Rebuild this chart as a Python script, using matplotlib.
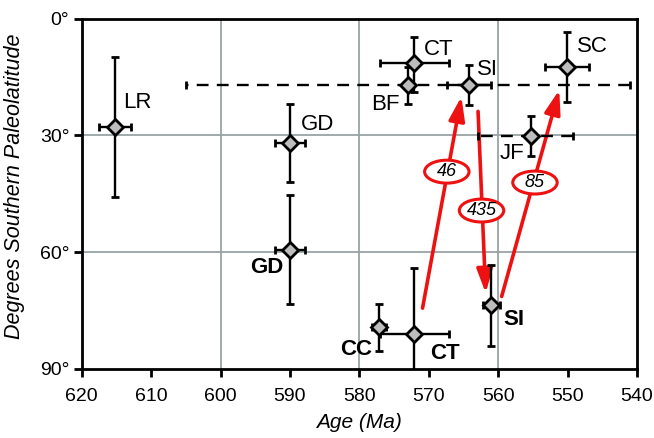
import numpy as np
import matplotlib.pyplot as plt
from matplotlib.patches import Ellipse

plt.rcParams['font.family'] = ['Liberation Sans', 'DejaVu Sans']

# paleomagnetic poles: age (Ma) and southern paleolatitude (deg)
names = ['LR', 'GD', 'GD', 'CT', 'BF', 'SI', 'SC', 'JF', 'CC', 'CT', 'SI']
ages = [615.2, 590.0, 590.0, 572.1, 573.0, 564.2, 550.1, 555.2, 577.2, 572.1, 561.0]
lats = [27.8, 32.0, 59.4, 11.3, 17.1, 17.0, 12.3, 30.2, 79.3, 81.0, 73.6]
age_err_lo = [2.3, 2.2, 2.2, 5.0, 32.0, 3.2, 3.2, 6.0, 1.0, 5.0, 1.2]
age_err_hi = [2.3, 2.2, 2.2, 5.0, 32.0, 3.2, 3.2, 7.7, 1.0, 5.0, 1.2]
lat_err_lo = [18.0, 10.0, 14.0, 6.6, 4.8, 5.2, 9.0, 5.1, 6.0, 17.0, 10.4]
lat_err_hi = [18.0, 10.0, 14.0, 7.4, 4.8, 5.1, 9.2, 5.2, 6.0, 12.0, 10.5]
dashed_age = [False, False, False, False, True, False, False, True, False, False, False]
bold = [False, False, True, False, False, False, False, False, True, True, True]

# label positions (age, lat)
label_x = [612.0, 586.0, 593.4, 568.6, 576.3, 561.6, 546.4, 558.0, 580.4, 567.6, 557.8]
label_y = [21.6, 27.3, 64.0, 8.0, 22.0, 13.0, 7.1, 34.6, 85.0, 86.0, 77.4]

# red arrows: start (age, lat) -> end (age, lat), with number label
arrow_start = [(570.9, 74.4), (562.9, 23.8), (559.5, 71.4)]
arrow_end = [(565.3, 20.0), (561.8, 70.5), (551.2, 18.3)]
arrow_text = ['46', '435', '85']
arrow_text_pos = [(567.4, 39.3), (562.4, 49.3), (554.7, 42.1)]

fig = plt.figure(figsize=(6.54, 4.38), dpi=100)
ax = fig.add_axes([0.125, 0.158, 0.849, 0.799])

ax.set_xlim(620, 540)
ax.set_ylim(90, 0)

# grid lines
for gx in [600, 580, 560]:
    ax.axvline(gx, color='#98a4a4', lw=1.3, zorder=0)
for gy in [30, 60]:
    ax.axhline(gy, color='#98a4a4', lw=1.3, zorder=0)

# arrows first so points sit on top
for (x0, y0), (x1, y1) in zip(arrow_start, arrow_end):
    ax.annotate('', xy=(x1, y1), xytext=(x0, y0),
                arrowprops=dict(arrowstyle='-|>,head_width=0.3,head_length=0.9',
                                color='#ee1111', lw=2.6,
                                mutation_scale=16, shrinkA=0, shrinkB=0),
                zorder=2)
for t, (tx, ty) in zip(arrow_text, arrow_text_pos):
    ax.add_patch(Ellipse((tx, ty), 6.4, 5.9, fc='white', ec='#ee1111', lw=2.2, zorder=3))
    ax.text(tx, ty, t, fontsize=13, style='italic', ha='center', va='center', zorder=3.5)

for i in range(len(names)):
    eb = ax.errorbar(ages[i], lats[i],
                     xerr=[[age_err_lo[i]], [age_err_hi[i]]],
                     yerr=[[lat_err_lo[i]], [lat_err_hi[i]]],
                     fmt='D', ms=8, mfc='#bdbdbd', mec='black', mew=2,
                     ecolor='black', elinewidth=1.7, capsize=3, capthick=1.7,
                     zorder=4)
    if dashed_age[i]:
        eb[2][0].set_linestyle((0, (5, 3.5)))
    ax.text(label_x[i], label_y[i], names[i], fontsize=16,
            fontweight='bold' if bold[i] else 'normal',
            ha='center', va='center', zorder=5)

ax.set_xticks(np.arange(620, 539, -10))
ax.set_yticks([0, 30, 60, 90])
ax.set_yticklabels(['0°', '30°', '60°', '90°'])
ax.tick_params(labelsize=14, width=2, length=6, direction='out')
ax.tick_params(axis='x', pad=8)
ax.tick_params(axis='y', pad=3)
for s in ax.spines.values():
    s.set_linewidth(2)

ax.set_xlabel('Age (Ma)', fontsize=15, style='italic')
ax.set_ylabel('Degrees Southern Paleolatitude', fontsize=15.5, style='italic')
ax.xaxis.set_label_coords(0.5, -0.125)
ax.yaxis.set_label_coords(-0.103, 0.523)

fig.savefig('out.png', dpi=100)
